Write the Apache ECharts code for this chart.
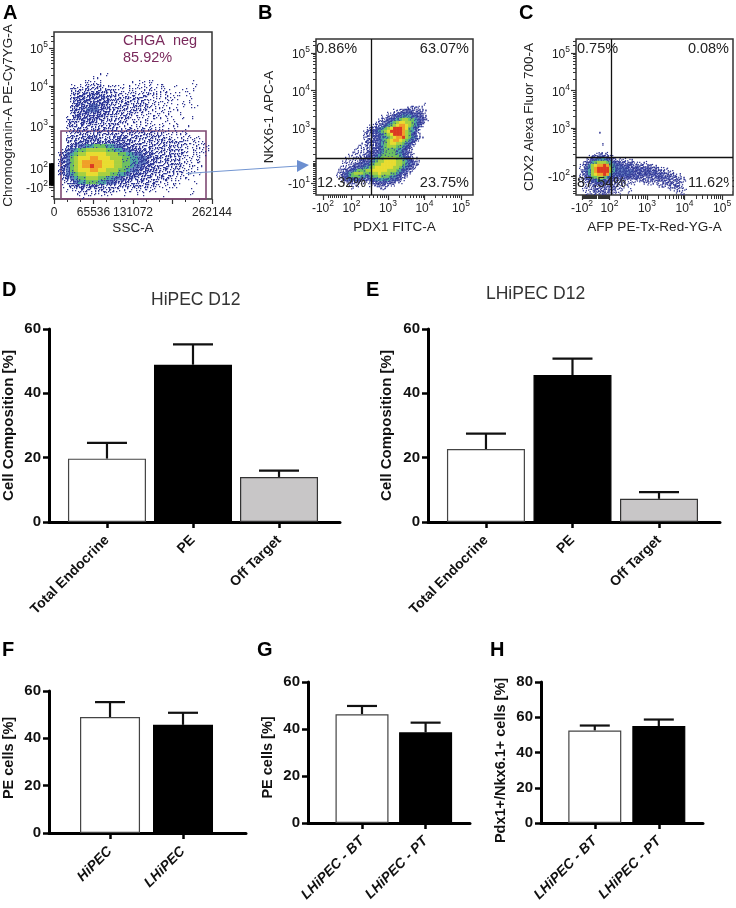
<!DOCTYPE html>
<html>
<head>
<meta charset="utf-8">
<style>html,body{margin:0;padding:0;background:#fff}#c{width:736px;height:908px}</style>
<script src="https://cdn.jsdelivr.net/npm/echarts@6/dist/echarts.min.js"></script>
</head>
<body>
<div id="c"></div>
<script>
// ---------- bar data ----------
var categoriesComposition = ['Total Endocrine', 'PE', 'Off Target'];
var hipecMeans = [19.7, 48.9, 14.0];
var hipecUpper = [24.6, 55.2, 16.0];
var lhipecMeans = [22.7, 45.7, 7.2];
var lhipecUpper = [27.5, 50.8, 9.3];
var categoriesF = ['HiPEC', 'LHiPEC'];
var fMeans = [49.0, 45.7];
var fUpper = [55.3, 50.8];
var categoriesBT = ['LHiPEC - BT', 'LHiPEC - PT'];
var gMeans = [46.3, 38.6];
var gUpper = [49.8, 42.7];
var hMeans = [52.5, 55.0];
var hUpper = [55.3, 58.7];

// ---------- flow density, hex level per cell (0 = empty, a = hottest) ----------
var densityA = [
"0000000000000000000000000000000000000000",
"0000000000000000000000000000000000000000",
"0000000000000000000000000000000000000000",
"0000000000010100000000000000000000000000",
"0000000001100000000000000000000000000000",
"0000000111110000000101111000000000100000",
"0000111122221111111011111111001000010000",
"0000222222222221111111111111100011100000",
"0000222333332222211211222111111101000000",
"0000233333333322222222211111111000100000",
"0000233333333322222222211111110011000000",
"0000233334433322222222221111101010110000",
"0000233344433322222222211111111000000000",
"0000233333333222222221111111100100000000",
"0002233333332222222111111110110010100000",
"0002222333222222221111111001101000000000",
"0002222222222222111111111111011001000000",
"0001222222222222212221212111101010000000",
"0001222222222222222222222221111111000000",
"0002222333322223332222222222211111111000",
"0002233333333333333222222222222221111100",
"0002334455666554433322222222222211111110",
"0023456677777665544333322222222211111110",
"0234567788888777665544333222222221111100",
"0234678889988877766554433322222211111000",
"0234678999998887766554433222222211111000",
"023467899a998887766544333222222211111000",
"0234678889988777665443333222222211110000",
"0234567788877766554333322222221111101000",
"0023456677766554433332222222211111000000",
"0012345566655443332222222211111100010000",
"0011233333332222222222222111111000000000",
"0001112221222221111111111100100000100000",
"0000011111111110010010100000000000100000",
"0000000100000000000000000001000000000000"
];
var densityB = [
"0000000000000000000000000000000000000",
"0000000000000000000000000000000100000",
"0000000000000000000000000112211000000",
"0000000000000000000001122332222100000",
"0000000000000000000112334443332100000",
"0000000000000000011223445554433200000",
"0000000000000000122344567766543210000",
"0000000000000001223456788776543100000",
"0000000000000112234567899876542000000",
"000000000000122345678aaa9865420000000",
"00000000000122345678aaaa9765310000000",
"000000000001223345678aaa9764310000000",
"000000000001223345567899a765421000000",
"0000000000012233456789987654210000000",
"0000000000112223456788776543100000000",
"0000000001112223456777665431000000000",
"0000000011112233456666554321000000000",
"0000000111112333456666554321000000000",
"0000001111123334566666654321000000000",
"0000011111233345667777665432100000000",
"0000111112333456778888776543210000000",
"0000111223344567788888776543210000000",
"0001112334455678888887765432100000000",
"0011233456667788888777654321000000000",
"0012345677766677877766543210000000000",
"0012345666554566766655432100000000000",
"0001234444333445555544321000000000000",
"0000112222111233333322110000000000000",
"0000001111000112222111000000000000000",
"0000000100000000111000000000000000000"
];
var densityC = [
"0000000000000000000000000000000000000000",
"0000000000000000000000000000000000000000",
"0000000001000000000000000000000000000000",
"0000000000000000000000000000000000000000",
"0000000000000000000000000000000000000000",
"0000000000000000000000000000000000000000",
"0000000000100000000000000000000000000000",
"0000000000000000000000000000000000000000",
"0000000000000000000000000000000000000000",
"0000000011211000000000000000000000000000",
"0000001223332110000000000000000000000000",
"0000012345554321111110000000000000000000",
"0000123567776543322221111100000000000000",
"00012357899a9654433332222221100000000000",
"000124579aaaa754444333333332221110000000",
"000124579aaaa754444443333333322211100000",
"00012357899a9544444433333333333222211000",
"0001234667765433333333322222233332222100",
"0001123445543322211111122222222222222110",
"0000112233333322111111001111112222221100",
"0000111222222222110100000000011112222100",
"0000111222222221110010000000000001111110",
"0000011122222111100100000000000000011100",
"0000011111111110000000000000000000000110",
"0000001111111000000000000000000000000010"
];
var levelColors = ['', '', '', '', '#6b86c4', '#4fa8a4', '#6cc060', '#a8d040', '#e8dc30', '#f0a028', '#dc3a22'];
var speckleCount = [0, 2, 5, 9, 7, 3, 1];
var speckleOrder = [5, 10, 0, 15, 3, 12, 6, 9, 1, 14, 7, 8, 2, 13, 4, 11];

// ---------- tick labels ----------
var ticksAx = [0, 65536, 131072, 262144];
var ticksAy = [[5, '5', ''], [4.04, '4', ''], [3.03, '3', ''], [1.96, '2', ''], [1.48, '2', '-']];
var ticksBx = [[1.22, '2', '-'], [2, '2', ''], [3, '3', ''], [4, '4', ''], [5, '5', '']];
var ticksBy = [[5, '5', ''], [4, '4', ''], [3, '3', ''], [1.53, '1', '-']];
var ticksCx = [[1.27, '2', '-'], [2, '2', ''], [3, '3', ''], [4, '4', ''], [5, '5', '']];
var ticksCy = [[5, '5', ''], [4, '4', ''], [3, '3', ''], [1.72, '2', '-']];

var FONT = '"Liberation Sans", Arial, sans-serif';
var DARK = '#333';

function minorLog(lo, hi) {
  var out = [];
  for (var d = lo; d < hi; d++) for (var k = 1; k < 10; k++) out.push(d + Math.log10(k));
  return out;
}
function dense(lo, hi, step) {
  var out = [];
  for (var v = lo; v <= hi; v += step) out.push(v);
  return out;
}

var option = {
  animation: false,
  textStyle: { fontFamily: FONT },
  title: [], grid: [], xAxis: [], yAxis: [], series: [], graphic: []
};

function powerLabel(list) {
  return function (v) {
    var best = list[0];
    list.forEach(function (t) { if (Math.abs(t[0] - v) < Math.abs(best[0] - v)) best = t; });
    return '{n|' + best[2] + '10}{s|' + best[1] + '}';
  };
}
var powerRich = {
  n: { fontSize: 12, color: '#222', fontFamily: FONT, lineHeight: 14, padding: [4, 0, 0, 0] },
  s: { fontSize: 8.5, color: '#222', fontFamily: FONT, lineHeight: 10, padding: [0, 0, 6, 0] }
};

function flowPlot(p) {
  var g = option.grid.length;
  option.grid.push({ left: p.box[0], top: p.box[1], width: p.box[2], height: p.box[3], show: true,
    backgroundColor: '#fff', borderColor: DARK, borderWidth: 1.5, containLabel: false });
  var xBase = { gridIndex: g, type: 'value', min: p.xr[0], max: p.xr[1], position: 'bottom', splitLine: { show: false }, axisLine: { show: false, onZero: false } };
  var yBase = { gridIndex: g, type: 'value', min: p.yr[0], max: p.yr[1], position: 'left', splitLine: { show: false }, axisLine: { show: false, onZero: false } };
  var xi = option.xAxis.length, yi = option.yAxis.length;
  var xVals = p.xTicks.map(function (t) { return t.length ? t[0] : t; });
  var yVals = p.yTicks.map(function (t) { return t[0]; });
  option.xAxis.push(Object.assign({}, xBase, {
    name: p.xName, nameLocation: 'middle', nameGap: p.xGap,
    nameTextStyle: { fontSize: 13.5, color: '#222', fontFamily: FONT },
    axisTick: { show: true, length: 5, customValues: p.xMajor || xVals, lineStyle: { color: DARK, width: 1.2 } },
    axisLabel: p.xPlain
      ? { customValues: xVals, fontSize: 12, color: '#222', margin: 8, hideOverlap: false, showMinLabel: true, showMaxLabel: true,
          formatter: function (v) { return String(Math.round(v)); } }
      : { customValues: xVals, formatter: powerLabel(p.xTicks), rich: powerRich, margin: 5, hideOverlap: false }
  }));
  option.yAxis.push(Object.assign({}, yBase, {
    name: p.yName, nameLocation: 'middle', nameGap: p.yGap,
    nameTextStyle: { fontSize: 13.5, color: '#222', fontFamily: FONT },
    axisTick: { show: true, length: 5, customValues: yVals, lineStyle: { color: DARK, width: 1.2 } },
    axisLabel: { customValues: yVals, formatter: powerLabel(p.yTicks), rich: powerRich, margin: 6, hideOverlap: false }
  }));
  // short minor ticks on second axes sharing the plot
  option.xAxis.push(Object.assign({}, xBase, {
    axisLabel: { show: false },
    axisTick: { show: true, length: p.xMinorLen || 3, customValues: p.xMinor, lineStyle: { color: DARK, width: 1 } }
  }));
  option.yAxis.push(Object.assign({}, yBase, {
    axisLabel: { show: false },
    axisTick: { show: true, length: p.yMinorLen || 3, customValues: p.yMinor, lineStyle: { color: DARK, width: 1 } }
  }));
  // density cells
  var cells = [];
  p.density.forEach(function (row, j) {
    for (var i = 0; i < row.length; i++) {
      var lv = parseInt(row[i], 16);
      if (lv > 0) cells.push([p.cell.x0 + i * p.cell.dx, p.cell.y0 - j * p.cell.dy, lv, i, j]);
    }
  });
  var cell = p.cell;
  option.series.push({
    type: 'custom', xAxisIndex: xi, yAxisIndex: yi, data: cells, clip: true, silent: true,
    encode: { x: 0, y: 1 },
    renderItem: function (params, api) {
      var lv = api.value(2);
      var a = api.coord([api.value(0), api.value(1)]);
      var b = api.coord([api.value(0) + cell.dx, api.value(1) - cell.dy]);
      var w = b[0] - a[0], h = b[1] - a[1];
      var kids = [];
      if (levelColors[lv]) {
        kids.push({ type: 'rect', shape: { x: a[0], y: a[1], width: w + 0.4, height: h + 0.4 }, style: { fill: levelColors[lv] } });
      }
      // texture of small dots: sparse levels read as separate events, as in the original plot
      var n = speckleCount[lv] || 0;
      var shift = (speckleOrder[api.value(3) % 16] * 3 + speckleOrder[api.value(4) % 16] * 7) % 16;
      for (var k = 0; k < n; k++) {
        var s = speckleOrder[(k * 5 + shift) % 16];
        kids.push({ type: 'rect',
          shape: { x: a[0] + (s % 4) * w / 4, y: a[1] + Math.floor(s / 4) * h / 4, width: 1.25, height: 1.25 },
          style: { fill: lv <= 3 ? (k % 3 === 2 ? '#4a58b4' : '#2c3290') : '#34409c' } });
      }
      return { type: 'group', children: kids };
    }
  });
  // overlay lines
  var ov = { type: 'line', xAxisIndex: xi, yAxisIndex: yi, data: [], silent: true, symbol: 'none' };
  if (p.quad) {
    ov.markLine = { silent: true, symbol: 'none', animation: false, label: { show: false },
      lineStyle: { color: '#111', width: 1.3, type: 'solid' },
      data: [{ xAxis: p.quad[0] }, { yAxis: p.quad[1] }] };
  }
  if (p.gate) {
    ov.markArea = { silent: true, label: { show: false },
      itemStyle: { color: 'rgba(0,0,0,0)', borderColor: '#7f4a74', borderWidth: 1.6 },
      data: [[{ xAxis: p.gate[0], yAxis: p.gate[1] }, { xAxis: p.gate[2], yAxis: p.gate[3] }]] };
  }
  option.series.push(ov);
}

flowPlot({
  box: [54, 32, 158, 167], xr: [0, 262144], yr: [1.177, 5.405],
  xTicks: ticksAx, xPlain: true, xMajor: [0, 65536, 131072, 196608, 262144],
  yTicks: ticksAy,
  xMinor: dense(0, 262144, 21845.33),
  yMinor: minorLog(2, 5).concat(dense(1.25, 2.1, 0.14)).concat([5.3, 5.18]),
  density: densityA, cell: { x0: 0, dx: 6637, y0: 4.696, dy: 0.1013 },
  gate: [11600, 2.9, 252190, 1.18],
  xName: 'SSC-A', xGap: 22, yName: 'Chromogranin-A PE-Cy7YG-A', yGap: 39
});
// solid tick block on A's low end
option.yAxis.push({ gridIndex: 0, type: 'value', min: 1.177, max: 5.405, position: 'left', splitLine: { show: false },
  axisLine: { show: false, onZero: false }, axisLabel: { show: false },
  axisTick: { show: true, length: 5, customValues: dense(1.53, 2.09, 0.025), lineStyle: { color: '#000', width: 1.5 } } });

flowPlot({
  box: [316, 39, 157, 156], xr: [1.03, 5.33], yr: [1.21, 5.37],
  xTicks: ticksBx, yTicks: ticksBy,
  xMinor: minorLog(2, 5).concat(dense(1.36, 1.9, 0.055)),
  yMinor: minorLog(2, 5).concat(dense(1.27, 2.15, 0.05)).concat([5.2, 5.3]),
  density: densityB, cell: { x0: 1.414, dx: 0.0822, y0: 3.747, dy: 0.08 },
  quad: [2.537, 2.2],
  xName: 'PDX1 FITC-A', xGap: 25, yName: 'NKX6-1 APC-A', yGap: 40
});
flowPlot({
  box: [576, 39, 157, 156], xr: [1.11, 5.29], yr: [1.21, 5.37],
  xTicks: ticksCx, yTicks: ticksCy,
  xMinor: minorLog(2, 5).concat(dense(1.27, 2.02, 0.028)), xMinorLen: 4,
  yMinor: minorLog(2, 5).concat(dense(1.25, 1.8, 0.07)).concat([5.2, 5.3]),
  density: densityC, cell: { x0: 0.95, dx: 0.08, y0: 3.08, dy: 0.08 },
  quad: [2.043, 2.227],
  xName: 'AFP PE-Tx-Red-YG-A', xGap: 25, yName: 'CDX2 Alexa Fluor 700-A', yGap: 40
});

var FILLS3 = [['#fff', '#444'], ['#000', '#000'], ['#c8c6c7', '#333']];

function barPanel(p) {
  var g = option.grid.length;
  option.grid.push({ left: p.box[0], top: p.box[1], width: p.box[2], height: p.box[3] });
  var xi = option.xAxis.length, yi = option.yAxis.length;
  var idx = p.cats.map(function (_, i) { return i; });
  option.xAxis.push({
    gridIndex: g, type: 'value', min: p.xr[0], max: p.xr[1], position: 'bottom', splitLine: { show: false },
    axisLine: { show: true, onZero: false, lineStyle: { color: '#000', width: 3 } },
    axisTick: { show: true, length: 6, customValues: idx, lineStyle: { color: '#000', width: 2.5 } },
    axisLabel: { customValues: idx, rotate: 45, interval: 0, margin: 16, hideOverlap: false,
      fontSize: p.xFont, fontWeight: 'bold', fontStyle: p.italic ? 'italic' : 'normal', color: '#111', fontFamily: FONT,
      formatter: function (v) { return p.cats[Math.round(v)]; } }
  });
  option.yAxis.push({
    gridIndex: g, type: 'value', min: 0, max: p.ymax, interval: 20, position: 'left', splitLine: { show: false },
    name: p.yName, nameLocation: 'middle', nameGap: p.yGap,
    nameTextStyle: { fontSize: p.nameFont || 15, fontWeight: 'bold', color: '#111', fontFamily: FONT, padding: p.namePad || 0 },
    axisLine: { show: true, onZero: false, lineStyle: { color: '#000', width: 3 } },
    axisTick: { show: true, length: 6, lineStyle: { color: '#000', width: 2.5 } },
    axisLabel: { fontSize: 15, fontWeight: 'bold', color: '#111', margin: 8, fontFamily: FONT, showMinLabel: true, showMaxLabel: true }
  });
  option.series.push({
    type: 'custom', xAxisIndex: xi, yAxisIndex: yi, silent: true, clip: false, z: 2,
    data: p.means.map(function (m, i) { return [i, m, p.upper[i]]; }),
    encode: { x: 0, y: [1, 2] },
    renderItem: function (params, api) {
      var a = api.coord([api.value(0), api.value(1)]);
      var b = api.coord([api.value(0), api.value(2)]);
      var s = { stroke: '#111', lineWidth: p.errW || 2.2, fill: null };
      return { type: 'group', children: [
        { type: 'line', shape: { x1: a[0], y1: a[1], x2: b[0], y2: b[1] }, style: s },
        { type: 'line', shape: { x1: b[0] - p.cap / 2, y1: b[1], x2: b[0] + p.cap / 2, y2: b[1] }, style: s }
      ] };
    }
  });
  option.series.push({
    type: 'bar', xAxisIndex: xi, yAxisIndex: yi, barWidth: p.barW, silent: true, z: 3,
    data: p.means.map(function (m, i) {
      return { value: [i, m], itemStyle: { color: p.fills[i][0], borderColor: p.fills[i][1], borderWidth: 1.2 } };
    })
  });
}

barPanel({ box: [49, 329, 291, 193], xr: [-0.674, 2.709], ymax: 60, cats: categoriesComposition, means: hipecMeans, upper: hipecUpper,
  fills: FILLS3, barW: 78, cap: 40, xFont: 14, yName: 'Cell Composition [%]', yGap: 33 });
barPanel({ box: [428, 329, 292, 193], xr: [-0.67, 2.705], ymax: 60, cats: categoriesComposition, means: lhipecMeans, upper: lhipecUpper,
  fills: FILLS3, barW: 78, cap: 40, xFont: 14, yName: 'Cell Composition [%]', yGap: 34 });
barPanel({ box: [49, 691, 197, 142], xr: [-0.836, 1.863], ymax: 60, cats: categoriesF, means: fMeans, upper: fUpper,
  fills: FILLS3, barW: 60, cap: 30, xFont: 14, italic: true, yName: 'PE cells [%]', yGap: 33, nameFont: 14.5, namePad: [0, 0, 0, 8] });
barPanel({ box: [308, 682, 162, 141], xr: [-0.849, 1.698], ymax: 60, cats: categoriesBT, means: gMeans, upper: gUpper,
  fills: FILLS3, barW: 53, cap: 30, xFont: 14, italic: true, yName: 'PE cells [%]', yGap: 33, nameFont: 14.5, namePad: [0, 10, 0, 0] });
barPanel({ box: [541, 682, 162, 141], xr: [-0.84, 1.69], ymax: 80, cats: categoriesBT, means: hMeans, upper: hUpper,
  fills: FILLS3, barW: 53, cap: 30, xFont: 14, italic: true, yName: 'Pdx1+/Nkx6.1+ cells [%]', yGap: 33, nameFont: 14.5, namePad: [0, 16, 0, 0] });

// panel letters and titles
[['A', 3, 3], ['B', 258, 3], ['C', 519, 3], ['D', 2, 280], ['E', 366, 280], ['F', 2, 640], ['G', 257, 640], ['H', 490, 640]].forEach(function (t) {
  option.title.push({ text: t[0], left: t[1], top: t[2], padding: 0, textStyle: { fontSize: 20, fontWeight: 'bold', color: '#000', fontFamily: FONT } });
});
[['HiPEC D12', 151, 291], ['LHiPEC D12', 486, 285]].forEach(function (t) {
  option.title.push({ text: t[0], left: t[1], top: t[2], padding: 0, textStyle: { fontSize: 17.5, fontWeight: 'normal', color: '#333', fontFamily: FONT } });
});

// gate and quadrant percentages
function note(text, x, y, align, color) {
  option.graphic.push({ type: 'text', z: 50, x: x, y: y,
    style: { text: text, align: align || 'left', verticalAlign: 'middle', font: '14.5px ' + FONT, fill: color || '#222' } });
}
var PURPLE = '#7a2a5c';
note('CHGA  neg', 123, 41, 'left', PURPLE);
note('85.92%', 123, 58, 'left', PURPLE);
note('0.86%', 316, 49); note('63.07%', 469, 49, 'right');
note('12.32%', 317, 183); note('23.75%', 469, 183, 'right');
note('0.75%', 577, 49); note('0.08%', 729, 49, 'right');
note('87.54%', 577, 183); note('11.62%', 688, 183);
option.graphic.push({ type: 'rect', z: 51, shape: { x: 729, y: 175, width: 3.2, height: 16 }, style: { fill: '#fff' } });
option.graphic.push({ type: 'rect', z: 51, shape: { x: 734, y: 175, width: 2, height: 16 }, style: { fill: '#fff' } });
// arrow from the gate to panel B
option.graphic.push({ type: 'line', z: 60, shape: { x1: 186, y1: 173.5, x2: 298, y2: 166 }, style: { stroke: '#7396d2', lineWidth: 1.2 } });
option.graphic.push({ type: 'polygon', z: 60, shape: { points: [[309, 165], [297, 160], [297, 172]] }, style: { fill: '#6c8fd0' } });

var chart = echarts.init(document.getElementById('c'), null, { renderer: 'canvas', width: 736, height: 908 });
chart.setOption(option);
</script>
</body>
</html>
